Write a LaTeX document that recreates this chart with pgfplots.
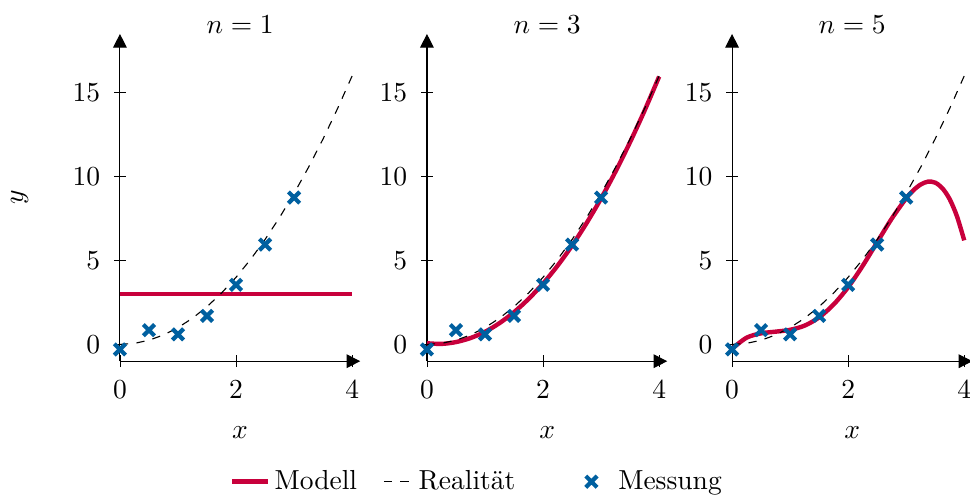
\documentclass[border=0pt]{standalone}
\usepackage{pgfplots}
\pgfplotsset{compat=1.18}
\usetikzlibrary{arrows.meta}

\definecolor{mblue}{RGB}{0,96,160}
\definecolor{mred}{RGB}{200,0,60}

\pgfplotsset{
  every axis title shift=0pt,
  panel/.style={
    x=21.1pt, y=6.1pt,
    xmin=0, xmax=4.14, ymin=-1, ymax=18.5,
    axis lines=left,
    axis line style={-{Triangle[length=5pt,width=5pt]}},
    xtick={0,2,4}, ytick={0,5,10,15},
    tick style={black},
    xticklabel style={yshift=-1.4pt},
    yticklabel style={xshift=-1.5pt},
    xlabel={$x$},
    xlabel style={at={(axis description cs:0.5,0)}, anchor=center, yshift=-25.8pt},
    title style={at={(axis description cs:0.5,1)}, anchor=base, yshift=0.3pt},
    clip=false,
  },
  modell/.style={mred, line width=1.6pt, smooth, no markers,
    legend image code/.code={\draw[##1] (0pt,0pt) -- (13.1pt,0pt);}},
  real/.style={black, dashed, thin, no markers,
    legend image code/.code={\draw[##1] (0pt,0pt) -- (10pt,0pt);}},
  mess/.style={only marks, mark=x, mark size=2.9pt, mblue, line width=1.5pt,
    legend image code/.code={\draw[##1] plot coordinates {(0pt,0pt)};}},
}

% measured points
\pgfplotstableread{
x y
0   -0.30
0.5  0.85
1    0.60
1.5  1.70
2    3.55
2.5  5.95
3    8.75
}\messung

% true relation
\pgfplotstableread{
x y
0     0
0.25  0.0625
0.5   0.25
0.75  0.5625
1     1
1.25  1.5625
1.5   2.25
1.75  3.0625
2     4
2.25  5.0625
2.5   6.25
2.75  7.5625
3     9
3.25  10.5625
3.5   12.25
3.75  14.0625
4     16
}\realitaet

% fitted models
\pgfplotstableread{
x y
0  3.01
4  3.01
}\modelA

\pgfplotstableread{
x y
0     0.07
0.25  0.03
0.5   0.14
0.75  0.38
1     0.75
1.25  1.27
1.5   1.92
1.75  2.71
2     3.63
2.25  4.69
2.5   5.89
2.75  7.23
3     8.70
3.25  10.31
3.5   12.06
3.75  13.94
4     15.96
}\modelC

\pgfplotstableread{
x y
0     -0.26
0.25   0.40
0.5    0.66
0.75   0.76
1      0.87
1.25   1.12
1.5    1.61
1.75   2.38
2      3.41
2.25   4.68
2.5    6.09
2.75   7.49
3      8.71
3.125  9.19
3.25   9.53
3.375  9.70
3.5    9.64
3.625  9.30
3.75   8.65
3.875  7.63
4      6.20
}\modelE

\begin{document}
\begin{tikzpicture}
\useasboundingbox (-43.6pt,-49.8pt) rectangle (309.0pt,131.3pt);

\begin{axis}[panel, title={$n=1$}, ylabel={$y$},
  ylabel style={at={(axis description cs:-0.417,0.5)}, anchor=center}]
  \addplot[modell] table {\modelA};
  \addplot[real] table {\realitaet};
  \addplot[mess] table {\messung};
\end{axis}

\begin{axis}[panel, title={$n=3$}, at={(111.6pt,0)},
  legend columns=-1,
  legend style={at={(axis description cs:0,0)}, anchor=west,
    xshift=-74.8pt, yshift=-43.8pt, draw=none, fill=none,
    nodes={inner sep=0pt},
    /tikz/column 1/.style={column sep=1.5pt},
    /tikz/column 2/.style={column sep=9.5pt},
    /tikz/column 3/.style={column sep=2.5pt},
    /tikz/column 4/.style={column sep=25.6pt},
    /tikz/column 5/.style={column sep=7.7pt}}]
  \addplot[modell] table {\modelC};
  \addlegendentry{Modell}
  \addplot[real] table {\realitaet};
  \addlegendentry{Realität}
  \addplot[mess] table {\messung};
  \addlegendentry{Messung}
\end{axis}

\begin{axis}[panel, title={$n=5$}, at={(222.5pt,0)}]
  \addplot[modell] table {\modelE};
  \addplot[real] table {\realitaet};
  \addplot[mess] table {\messung};
\end{axis}
\end{tikzpicture}
\end{document}
